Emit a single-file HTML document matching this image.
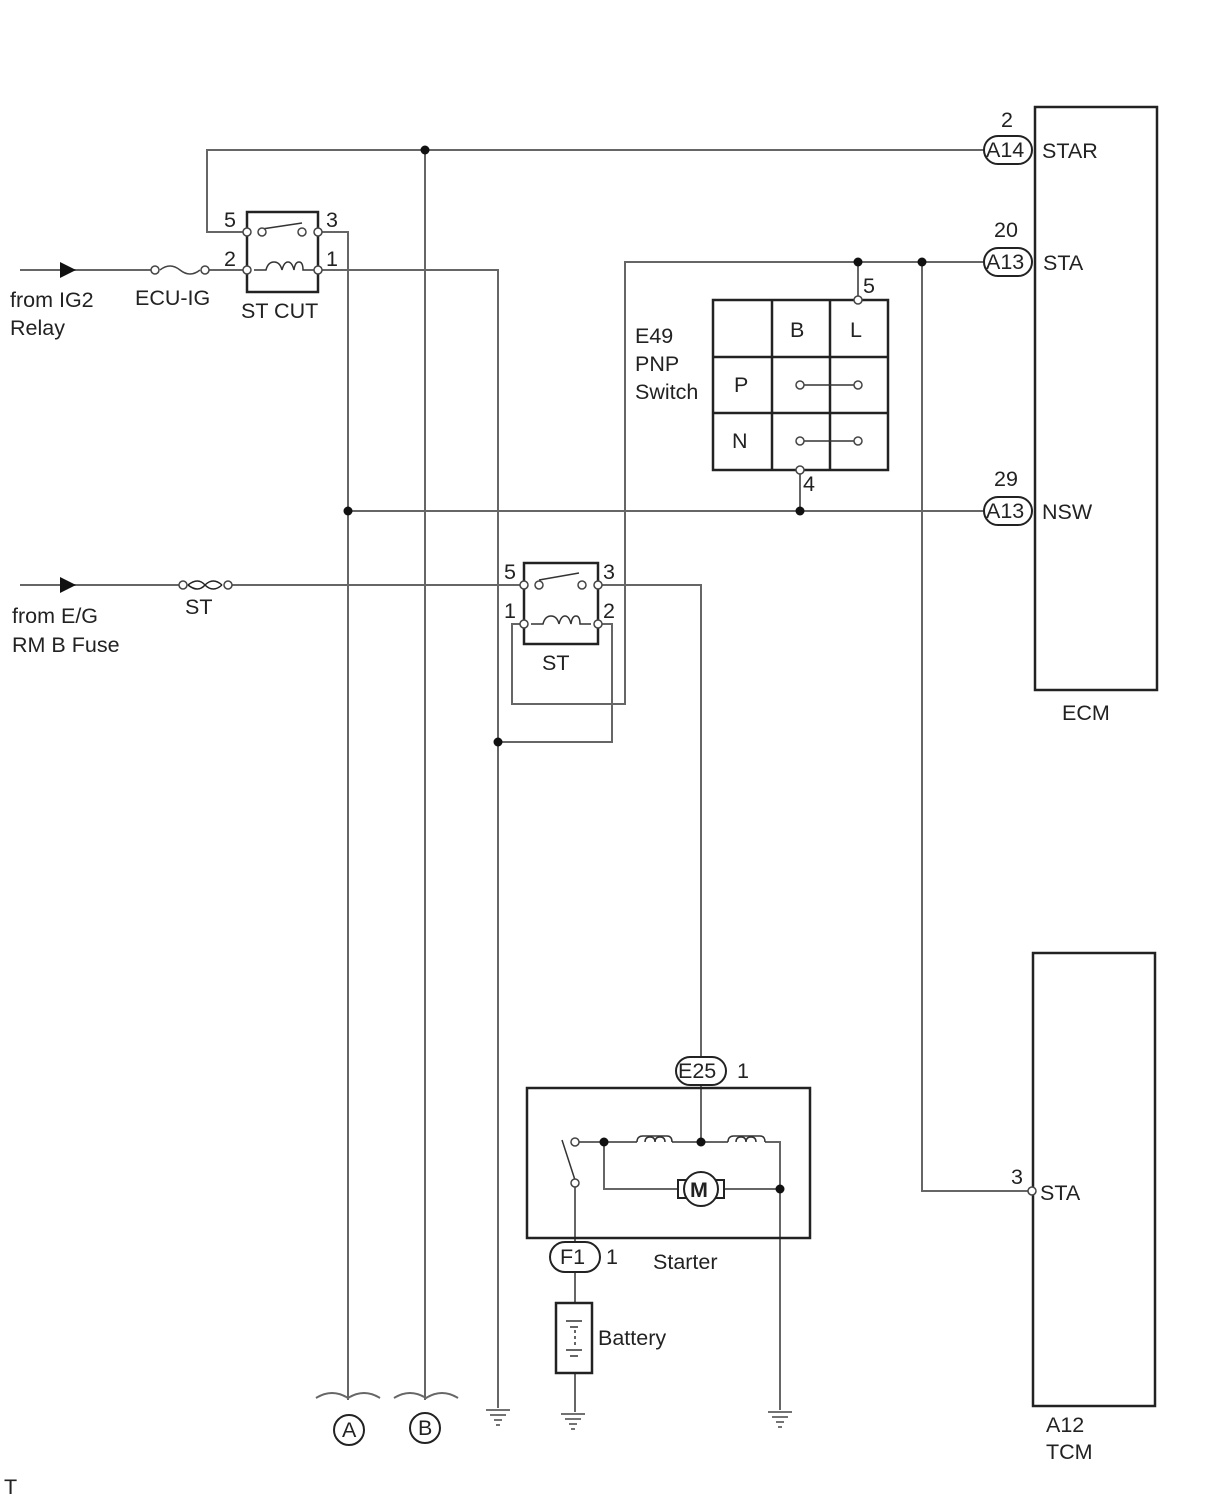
<!DOCTYPE html>
<html><head><meta charset="utf-8"><style>
html,body{margin:0;padding:0;background:#fff}
svg{display:block}
text{font-family:"Liberation Sans",sans-serif;font-size:21.5px;fill:#222}
</style></head><body>
<svg width="1210" height="1498" viewBox="0 0 1210 1498" xmlns="http://www.w3.org/2000/svg">
<g fill="none" stroke="#666" stroke-width="2">
<polyline points="985,150 207,150 207,232 247,232"/>
<line x1="425" y1="150" x2="425" y2="1400"/>
<polyline points="318,232 348,232 348,1400"/>
<polyline points="318,270 498,270 498,1408"/>
<line x1="20" y1="270" x2="155" y2="270"/>
<line x1="205" y1="270" x2="247" y2="270"/>
<polyline points="985,262 625,262 625,704 512,704 512,624 524,624"/>
<line x1="858" y1="262" x2="858" y2="300"/>
<polyline points="922,262 922,1191 1032,1191"/>
<polyline points="598,624 612,624 612,742 498,742"/>
<line x1="800" y1="470" x2="800" y2="511"/>
<line x1="348" y1="511" x2="985" y2="511"/>
<line x1="20" y1="585" x2="183" y2="585"/>
<line x1="228" y1="585" x2="524" y2="585"/>
<polyline points="598,585 701,585 701,1058"/>
<line x1="701" y1="1083" x2="701" y2="1142"/>
<polyline points="575,1142 637,1142"/>
<polyline points="672,1142 728,1142"/>
<polyline points="765,1142 780,1142 780,1410"/>
<polyline points="604,1142 604,1189 680,1189"/>
<polyline points="720,1189 780,1189"/>
<line x1="575" y1="1183" x2="575" y2="1242"/>
<line x1="575" y1="1272" x2="575" y2="1303"/>
<line x1="575" y1="1373" x2="575" y2="1412"/>
<path d="M316,1398 q16,-10 32,0 q16,-10 32,0"/>
<path d="M394,1398 q16,-10 32,0 q16,-10 32,0"/>
</g>
<polygon points="60,262 76,270 60,278" fill="#111"/>
<polygon points="60,577 76,585 60,593" fill="#111"/>
<g fill="#fff" stroke="#444" stroke-width="1.5">
<path d="M160,270 q10,-8 20,0 q10,8 20,0" fill="none"/>
<circle cx="155" cy="270" r="4"/><circle cx="205" cy="270" r="4"/>
<path d="M188,585 q10,-8 17,0 q8,8 17,0 M188,585 q10,8 17,0 q8,-8 17,0" fill="none" stroke="#222"/>
<circle cx="183" cy="585" r="4"/><circle cx="228" cy="585" r="4"/>
</g>
<g stroke="#222" stroke-width="2.5" fill="none">
<rect x="247" y="212" width="71" height="80"/>
<rect x="524" y="563" width="74" height="81"/>
<rect x="713" y="300" width="175" height="170"/>
<line x1="772" y1="300" x2="772" y2="470"/><line x1="830" y1="300" x2="830" y2="470"/>
<line x1="713" y1="357" x2="888" y2="357"/><line x1="713" y1="413" x2="888" y2="413"/>
<rect x="527" y="1088" width="283" height="150"/>
<rect x="1035" y="107" width="122" height="583"/>
<rect x="1033" y="953" width="122" height="453"/>
<rect x="556" y="1303" width="36" height="70"/>
</g>
<g stroke="#333" stroke-width="1.5" fill="none">
<line x1="262" y1="229" x2="302" y2="223"/>
<path d="M254,270 h12 q2,-8 8,-8 q6,0 8,8 q2,-8 6,-8 q4,0 6,8 q1,-8 5,-8 q4,0 4,8 h11"/>
<line x1="539" y1="580" x2="579" y2="573"/>
<path d="M531,624 h12 q2,-8 8,-8 q6,0 8,8 q2,-8 6,-8 q4,0 6,8 q1,-8 5,-8 q4,0 4,8 h11"/>
<line x1="800" y1="385" x2="858" y2="385"/><line x1="800" y1="441" x2="858" y2="441"/>
<path d="M637,1142 q0,-6 6,-6 h24 q5,0 5,6"/>
<path d="M645,1142 q0,-5 5,-5 q5,0 5,5 q0,-5 5,-5 q5,0 5,5"/>
<path d="M728,1142 q0,-6 6,-6 h26 q5,0 5,6"/>
<path d="M736,1142 q0,-5 5,-5 q5,0 5,5 q0,-5 5,-5 q5,0 5,5"/>
<line x1="562" y1="1140" x2="575" y2="1180"/>
<line x1="566" y1="1321" x2="582" y2="1321"/><line x1="570" y1="1327" x2="578" y2="1327"/>
<line x1="566" y1="1350" x2="582" y2="1350"/><line x1="570" y1="1356" x2="578" y2="1356"/>
<line x1="575" y1="1330" x2="575" y2="1348" stroke-dasharray="3,3"/>
</g>
<g stroke="#222" stroke-width="2" fill="#fff">
<rect x="678" y="1180" width="8" height="18"/><rect x="716" y="1180" width="8" height="18"/>
<circle cx="701" cy="1189" r="17"/>
</g>
<text x="690" y="1197" font-weight="bold" font-size="20">M</text>
<g fill="#fff" stroke="#444" stroke-width="1.5">
<circle cx="247" cy="232" r="4"/><circle cx="262" cy="232" r="4"/><circle cx="302" cy="232" r="4"/><circle cx="318" cy="232" r="4"/>
<circle cx="247" cy="270" r="4"/><circle cx="318" cy="270" r="4"/>
<circle cx="524" cy="585" r="4"/><circle cx="539" cy="585" r="4"/><circle cx="582" cy="585" r="4"/><circle cx="598" cy="585" r="4"/>
<circle cx="524" cy="624" r="4"/><circle cx="598" cy="624" r="4"/>
<circle cx="858" cy="300" r="4"/><circle cx="800" cy="470" r="4"/>
<circle cx="800" cy="385" r="4"/><circle cx="858" cy="385" r="4"/>
<circle cx="800" cy="441" r="4"/><circle cx="858" cy="441" r="4"/>
<circle cx="575" cy="1142" r="4"/><circle cx="575" cy="1183" r="4"/>
<circle cx="1032" cy="1191" r="4"/>
</g>
<g fill="#111">
<circle cx="425" cy="150" r="4.5"/><circle cx="858" cy="262" r="4.5"/><circle cx="922" cy="262" r="4.5"/>
<circle cx="348" cy="511" r="4.5"/><circle cx="800" cy="511" r="4.5"/><circle cx="498" cy="742" r="4.5"/>
<circle cx="604" cy="1142" r="4.5"/><circle cx="701" cy="1142" r="4.5"/><circle cx="780" cy="1189" r="4.5"/>
</g>
<g fill="#fff" stroke="#222" stroke-width="2">
<rect x="984" y="136" width="48" height="28" rx="14"/>
<rect x="984" y="248" width="48" height="28" rx="14"/>
<rect x="984" y="497" width="48" height="28" rx="14"/>
<rect x="676" y="1057" width="50" height="28" rx="14"/>
<rect x="550" y="1242" width="50" height="30" rx="15"/>
<circle cx="349" cy="1430" r="15"/><circle cx="425" cy="1428" r="15"/>
</g>
<g stroke="#444" stroke-width="1.5">
<line x1="486" y1="1410" x2="510" y2="1410"/><line x1="490" y1="1415" x2="506" y2="1415"/><line x1="494" y1="1420" x2="502" y2="1420"/><line x1="496" y1="1425" x2="500" y2="1425"/>
<line x1="561" y1="1414" x2="585" y2="1414"/><line x1="565" y1="1419" x2="581" y2="1419"/><line x1="569" y1="1424" x2="577" y2="1424"/><line x1="571" y1="1429" x2="575" y2="1429"/>
<line x1="768" y1="1412" x2="792" y2="1412"/><line x1="772" y1="1417" x2="788" y2="1417"/><line x1="776" y1="1422" x2="784" y2="1422"/><line x1="778" y1="1427" x2="782" y2="1427"/>
</g>
<text x="986" y="157" font-size="20">A14</text><text x="986" y="269" font-size="20">A13</text><text x="986" y="518" font-size="20">A13</text>
<text x="678" y="1078" font-size="20">E25</text><text x="737" y="1078">1</text>
<text x="560" y="1264">F1</text><text x="606" y="1264">1</text>
<text x="342" y="1437" font-size="17">A</text><text x="418" y="1435" font-size="17">B</text>
<text x="1001" y="127">2</text><text x="994" y="237">20</text><text x="994" y="486">29</text>
<text x="1042" y="158">STAR</text><text x="1043" y="270">STA</text><text x="1042" y="519">NSW</text>
<text x="1062" y="720">ECM</text>
<text x="1011" y="1184">3</text><text x="1040" y="1200">STA</text>
<text x="1046" y="1432">A12</text><text x="1046" y="1459">TCM</text>
<text x="224" y="227">5</text><text x="326" y="227">3</text><text x="224" y="266">2</text><text x="326" y="266">1</text>
<text x="241" y="318">ST CUT</text><text x="135" y="305">ECU-IG</text>
<text x="10" y="307">from IG2</text><text x="10" y="335">Relay</text>
<text x="12" y="623">from E/G</text><text x="12" y="652">RM B Fuse</text>
<text x="185" y="614">ST</text>
<text x="504" y="579">5</text><text x="603" y="579">3</text><text x="504" y="618">1</text><text x="603" y="618">2</text>
<text x="542" y="670">ST</text>
<text x="635" y="343">E49</text><text x="635" y="371">PNP</text><text x="635" y="399">Switch</text>
<text x="790" y="337">B</text><text x="850" y="337">L</text><text x="734" y="392">P</text><text x="732" y="448">N</text>
<text x="863" y="293">5</text><text x="803" y="491">4</text>
<text x="653" y="1269">Starter</text><text x="598" y="1345">Battery</text>
<text x="4" y="1494" font-size="12">T</text>
</svg>
</body></html>
